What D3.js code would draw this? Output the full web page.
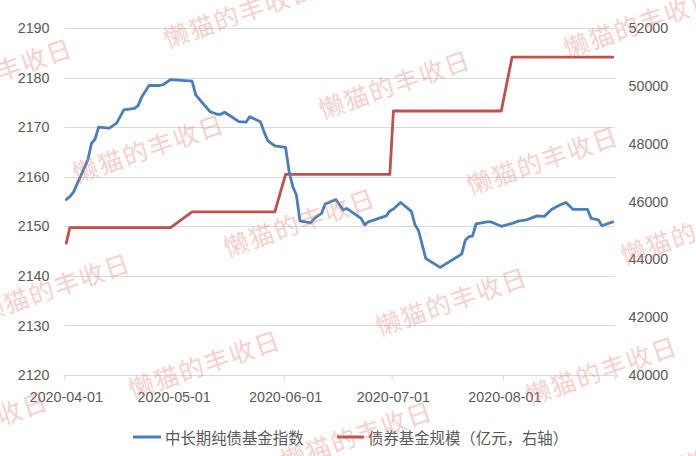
<!DOCTYPE html>
<html><head><meta charset="utf-8">
<script src="https://cdn.jsdelivr.net/npm/d3@7"></script>
<style>
html,body{margin:0;padding:0;background:#fff;}
svg{display:block;}
</style></head>
<body><svg id="c" width="696" height="456"></svg>
<script>
// ---- data ----
const indexDates = ["2020-04-01","2020-04-02","2020-04-03","2020-04-07","2020-04-08","2020-04-09","2020-04-10","2020-04-13","2020-04-15","2020-04-17","2020-04-20","2020-04-21","2020-04-22","2020-04-24","2020-04-27","2020-04-28","2020-04-30","2020-05-06","2020-05-07","2020-05-09","2020-05-11","2020-05-13","2020-05-14","2020-05-15","2020-05-17","2020-05-19","2020-05-21","2020-05-22","2020-05-25","2020-05-26","2020-05-27","2020-05-29","2020-06-01","2020-06-02","2020-06-03","2020-06-04","2020-06-05","2020-06-08","2020-06-09","2020-06-11","2020-06-12","2020-06-15","2020-06-17","2020-06-18","2020-06-21","2020-06-22","2020-06-23","2020-06-24","2020-06-29","2020-06-30","2020-07-01","2020-07-03","2020-07-06","2020-07-07","2020-07-08","2020-07-10","2020-07-14","2020-07-20","2020-07-21","2020-07-22","2020-07-23","2020-07-24","2020-07-27","2020-07-28","2020-07-31","2020-08-03","2020-08-05","2020-08-07","2020-08-10","2020-08-12","2020-08-14","2020-08-16","2020-08-18","2020-08-20","2020-08-24","2020-08-25","2020-08-27","2020-08-28","2020-08-31"];
const indexValues = [2155.4,2156.0,2156.9,2163.4,2166.7,2167.6,2170.0,2169.8,2170.8,2173.5,2173.8,2174.4,2176.1,2178.4,2178.4,2178.6,2179.6,2179.3,2176.5,2174.8,2173.1,2172.6,2172.6,2173.0,2172.1,2171.1,2171.0,2172.1,2171.1,2169.1,2167.3,2166.2,2165.9,2161.0,2158.0,2156.3,2151.1,2150.7,2151.6,2152.6,2154.5,2155.4,2153.3,2153.6,2152.1,2151.6,2150.3,2150.9,2152.1,2153.1,2153.5,2154.8,2153.0,2150.3,2149.1,2143.5,2141.7,2144.4,2147.2,2147.9,2148.0,2150.5,2150.9,2150.9,2150.0,2150.6,2151.1,2151.3,2152.1,2152.0,2153.4,2154.2,2154.8,2153.4,2153.4,2151.6,2151.3,2150.1,2150.9];
const scaleDates = ["2020-04-01","2020-04-02","2020-04-30","2020-05-06","2020-05-29","2020-06-01","2020-06-30","2020-07-01","2020-07-31","2020-08-03","2020-08-31"];
const scaleValues = [44560,45100,45100,45640,45640,46940,46940,49130,49130,50990,50990];
const leftTicks = [2120,2130,2140,2150,2160,2170,2180,2190];
const rightTicks = [40000,42000,44000,46000,48000,50000,52000];
const xTickDates = ["2020-04-01","2020-05-01","2020-06-01","2020-07-01","2020-08-01","2020-09-01"];
const xLabelDates = ["2020-04-01","2020-05-01","2020-06-01","2020-07-01","2020-08-01"];
const seriesNames = ["中长期纯债基金指数","债券基金规模（亿元，右轴）"];
const watermarkText = "懒猫的丰收日";

// ---- chart ----
const svg = d3.select("#c");
const parse = d3.utcParse("%Y-%m-%d");
const L = 64.5, R = 614.5, T = 28, B = 375;
const x = d3.scaleUtc().domain([parse("2020-04-01"), parse("2020-09-01")]).range([L, R]);
const half = 12*3600*1000;
const px = d => x(new Date(+parse(d) + half));
const yL = d3.scaleLinear().domain([2120,2190]).range([B,T]);
const yR = d3.scaleLinear().domain([40000,52000]).range([B,T]);
const txt = "#595959", grid = "#d9d9d9";
const numFont = "'Liberation Sans', Arial, sans-serif";
const cjkFont = "'Noto Sans CJK SC', sans-serif";

// gridlines
svg.append("g").selectAll("line").data(leftTicks).join("line")
  .attr("x1", L).attr("x2", R)
  .attr("y1", d => Math.round(yL(d))+0.5).attr("y2", d => Math.round(yL(d))+0.5)
  .attr("stroke", grid).attr("stroke-width", 1);

// x tick marks
const xa = svg.append("g").attr("transform", `translate(0,${Math.round(B)+0.5})`)
  .call(d3.axisBottom(x).tickValues(xTickDates.map(parse)).tickSize(5).tickFormat(""));
xa.select(".domain").remove();
xa.selectAll("line").attr("stroke", grid);

// x labels
svg.append("g").selectAll("text").data(xLabelDates).join("text")
  .attr("x", d => px(d)).attr("y", 397).attr("text-anchor","middle")
  .attr("dominant-baseline","central")
  .attr("font-family", numFont).attr("font-size", 14.3).attr("fill", txt)
  .text(d => d);

// left axis
const la = svg.append("g").attr("transform", `translate(${L},0)`)
  .call(d3.axisLeft(yL).tickValues(leftTicks).tickSize(0).tickPadding(15).tickFormat(d3.format("d")));
la.select(".domain").remove();
la.selectAll("text").attr("font-family", numFont).attr("font-size", 14.3).attr("fill", txt);

// right axis
const ra = svg.append("g").attr("transform", `translate(${R},0)`)
  .call(d3.axisRight(yR).tickValues(rightTicks).tickSize(0).tickPadding(14).tickFormat(d3.format("d")));
ra.select(".domain").remove();
ra.selectAll("text").attr("font-family", numFont).attr("font-size", 14.3).attr("fill", txt);

// lines
const blue = "#4a7ebb", red = "#c0504d";
const lineL = d3.line().x(d => px(d[0])).y(d => yL(d[1]));
const lineR = d3.line().x(d => px(d[0])).y(d => yR(d[1]));
svg.append("path").datum(scaleDates.map((d,i)=>[d, scaleValues[i]]))
  .attr("d", lineR).attr("fill","none").attr("stroke", red).attr("stroke-width", 2.8)
  .attr("stroke-linejoin","round").attr("stroke-linecap","round");
svg.append("path").datum(indexDates.map((d,i)=>[d, indexValues[i]]))
  .attr("d", lineL).attr("fill","none").attr("stroke", blue).attr("stroke-width", 2.8)
  .attr("stroke-linejoin","round").attr("stroke-linecap","round");

// legend
const leg = [{x1:133,x2:161,tx:165,c:blue,t:seriesNames[0]},{x1:337,x2:364,tx:368,c:red,t:seriesNames[1]}];
const lg = svg.append("g");
lg.selectAll("line").data(leg).join("line")
  .attr("x1", d=>d.x1).attr("x2", d=>d.x2).attr("y1", 437).attr("y2", 437)
  .attr("stroke", d=>d.c).attr("stroke-width", 3);
lg.selectAll("text").data(leg).join("text")
  .attr("x", d=>d.tx).attr("y", 437).attr("dominant-baseline","central")
  .attr("font-family", cjkFont).attr("font-size", 15.4).attr("fill", txt)
  .text(d=>d.t);

// watermarks (centers)
const wmX = [542,639,394,148,-4,239,299,696,54,204,-28,356,451,601,756];
const wmY = [159,22,83,147,71,12,221,229,286,363,424,434,300,369,440];
svg.append("g").selectAll("text").data(wmX).join("text")
  .attr("transform", (d,i) => `translate(${d},${wmY[i]}) rotate(-19)`)
  .attr("text-anchor","middle").attr("dominant-baseline","central")
  .attr("font-family", cjkFont).attr("font-size", 25).attr("letter-spacing", 1.5)
  .attr("fill", "#f08078").attr("fill-opacity", 0.4)
  .text(watermarkText);
</script></body></html>
